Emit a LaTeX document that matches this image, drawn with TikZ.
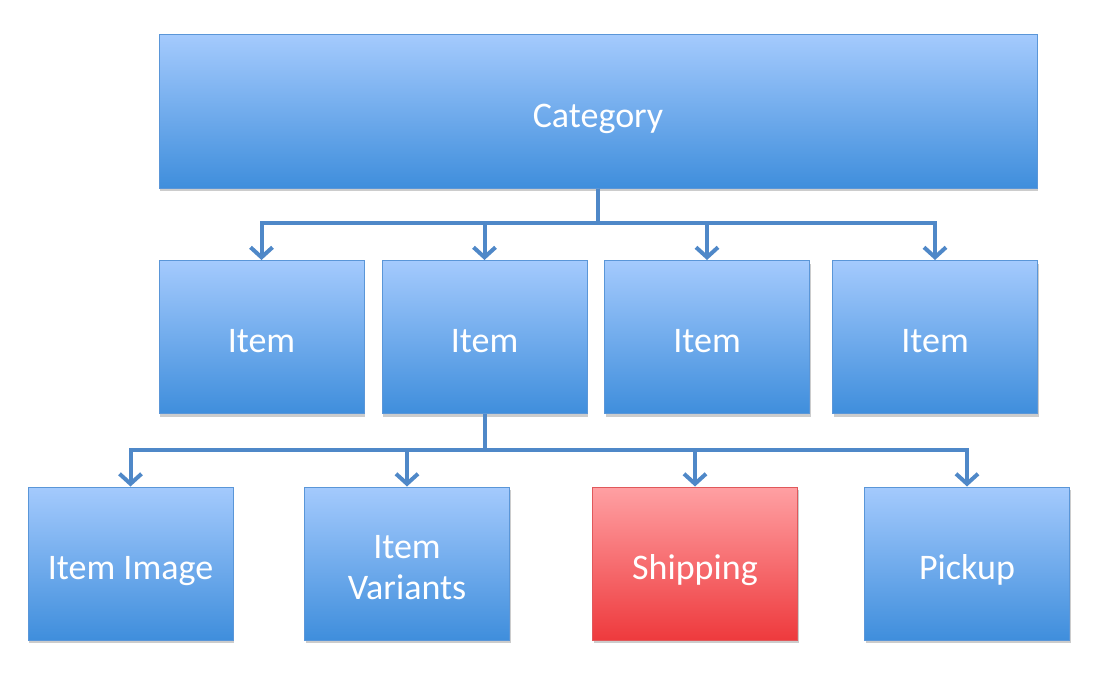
\documentclass[tikz,border=0pt]{standalone}
\usepackage{fontspec}
\setmainfont{Carlito}
\usetikzlibrary{arrows.meta, shadows}

\definecolor{boxtop}{HTML}{A4CAFD}
\definecolor{boxbot}{HTML}{3F8EDC}
\definecolor{boxline}{HTML}{5A96D8}
\definecolor{redtop}{HTML}{FFA0A3}
\definecolor{redbot}{HTML}{EE3A3D}
\definecolor{redline}{HTML}{E0585B}
\definecolor{linkblue}{HTML}{4F88C8}

\tikzset{
  box/.style={draw=boxline, line width=1pt, top color=boxtop, bottom color=boxbot,
    minimum width=205pt, minimum height=153pt, align=center, text=white,
    font=\fontsize{36}{41}\selectfont, text height=31pt, text depth=0pt,
    drop shadow={shadow xshift=1pt, shadow yshift=-3pt, fill=black, opacity=0.2}},
  redbox/.style={box, draw=redline, top color=redtop, bottom color=redbot},
  link/.style={draw=linkblue, line width=4pt, -{Straight Barb[length=10pt, width=22pt, line width=4pt]}}
}

\begin{document}
\begin{tikzpicture}[x=1pt, y=-1pt]
        \useasboundingbox (0,0) rectangle (1105,677);

        % top level
        \node[box, minimum width=878pt] (cat) at (598,111.5) {Category};

        % items
        \node[box] (item1) at (261.5,337) {Item};
        \node[box] (item2) at (484.5,337) {Item};
        \node[box] (item3) at (707,337) {Item};
        \node[box] (item4) at (935,337) {Item};

        % item details
        \node[box] (img) at (130.5,563.5) {Item Image};
        \node[box, text height=72pt] (var) at (407,563.5) {Item\\Variants};
        \node[redbox] (ship) at (695,563.5) {Shipping};
        \node[box] (pick) at (967,563.5) {Pickup};

        % connectors
        \coordinate (catbus) at (598,223);
        \foreach \n in {item1, item2, item3, item4}
          \draw[link] (cat.south) -- (catbus) -| (\n.north);
        \coordinate (itembus) at (484.5,450);
        \foreach \n in {img, var, ship, pick}
          \draw[link] (item2.south) -- (itembus) -| (\n.north);
    \end{tikzpicture}
\end{document}
